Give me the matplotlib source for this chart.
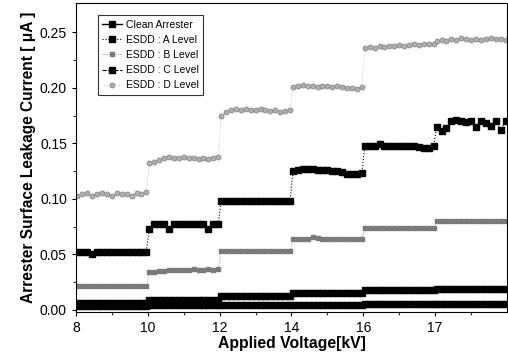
import matplotlib.pyplot as plt
import numpy as np

plt.rcParams['font.family'] = ['Liberation Sans', 'DejaVu Sans']

# voltage steps (equally spaced on the plot)
volt_labels = ["8", "10", "12", "14", "16", "17"]

# leakage current [uA], 15 samples for each voltage step
clean = [
    [0.003] * 15,
    [0.004] * 15,
    [0.004] * 15,
    [0.0045] * 15,
    [0.005] * 15,
    [0.005] * 15,
]
esdd_a = [
    [0.052, 0.052, 0.052, 0.050, 0.052, 0.052, 0.052, 0.052, 0.052, 0.052, 0.052, 0.052, 0.052, 0.052, 0.052],
    [0.073, 0.077, 0.077, 0.077, 0.073, 0.077, 0.077, 0.077, 0.077, 0.077, 0.077, 0.077, 0.073, 0.077, 0.077],
    [0.098, 0.098, 0.098, 0.098, 0.098, 0.098, 0.098, 0.098, 0.098, 0.098, 0.098, 0.098, 0.098, 0.098, 0.098],
    [0.125, 0.126, 0.127, 0.127, 0.127, 0.126, 0.126, 0.126, 0.125, 0.125, 0.124, 0.122, 0.122, 0.122, 0.123],
    [0.148, 0.148, 0.148, 0.149, 0.148, 0.148, 0.148, 0.148, 0.148, 0.148, 0.148, 0.147, 0.146, 0.146, 0.148],
    [0.165, 0.161, 0.164, 0.170, 0.171, 0.170, 0.169, 0.170, 0.165, 0.170, 0.168, 0.166, 0.170, 0.162, 0.170],
]
esdd_b = [
    [0.021, 0.021, 0.021, 0.021, 0.021, 0.021, 0.021, 0.021, 0.021, 0.021, 0.021, 0.021, 0.021, 0.021, 0.021],
    [0.034, 0.034, 0.035, 0.035, 0.036, 0.036, 0.036, 0.036, 0.036, 0.037, 0.036, 0.036, 0.037, 0.036, 0.037],
    [0.053, 0.053, 0.053, 0.053, 0.053, 0.053, 0.053, 0.053, 0.053, 0.053, 0.053, 0.053, 0.053, 0.053, 0.053],
    [0.064, 0.064, 0.064, 0.064, 0.066, 0.065, 0.064, 0.064, 0.064, 0.064, 0.064, 0.064, 0.064, 0.064, 0.064],
    [0.074, 0.074, 0.074, 0.074, 0.074, 0.074, 0.074, 0.074, 0.074, 0.074, 0.074, 0.074, 0.074, 0.074, 0.074],
    [0.080, 0.080, 0.080, 0.080, 0.080, 0.080, 0.080, 0.080, 0.080, 0.080, 0.080, 0.080, 0.080, 0.080, 0.080],
]
esdd_c = [
    [0.0065] * 15,
    [0.009] * 15,
    [0.012] * 15,
    [0.0155] * 15,
    [0.0178] * 15,
    [0.0185] * 15,
]
esdd_d = [
    [0.103, 0.104, 0.105, 0.103, 0.104, 0.105, 0.104, 0.103, 0.105, 0.104, 0.104, 0.103, 0.105, 0.104, 0.106],
    [0.132, 0.133, 0.135, 0.137, 0.138, 0.137, 0.137, 0.138, 0.137, 0.137, 0.136, 0.137, 0.136, 0.137, 0.138],
    [0.175, 0.178, 0.180, 0.181, 0.180, 0.181, 0.180, 0.180, 0.181, 0.180, 0.179, 0.180, 0.178, 0.179, 0.180],
    [0.201, 0.202, 0.203, 0.202, 0.202, 0.201, 0.202, 0.202, 0.201, 0.202, 0.201, 0.200, 0.200, 0.199, 0.201],
    [0.236, 0.237, 0.236, 0.238, 0.237, 0.238, 0.238, 0.239, 0.238, 0.239, 0.240, 0.239, 0.240, 0.240, 0.240],
    [0.242, 0.243, 0.242, 0.244, 0.243, 0.245, 0.244, 0.243, 0.244, 0.243, 0.244, 0.245, 0.244, 0.244, 0.243],
]


def flatten(series):
    xs, ys = [], []
    for i, seg in enumerate(series):
        n = len(seg)
        for k, v in enumerate(seg):
            xs.append(i + 0.02 + k * 0.96 / (n - 1))
            ys.append(v)
    return np.array(xs), np.array(ys)


fig = plt.figure(figsize=(5.08, 3.58), dpi=100)
ax = fig.add_axes([0.1496, 0.1285, 0.8484, 0.8631])

x, y = flatten(clean)
ax.plot(x, y, '-s', color='black', ms=4.8, lw=1, label='Clean Arrester')
x, y = flatten(esdd_a)
ax.plot(x, y, ':s', color='black', ms=4.8, lw=0.8, label='ESDD : A Level')
x, y = flatten(esdd_b)
ax.plot(x, y, ':s', color='#7a7a7a', ms=3.5, lw=0.6, label='ESDD : B Level')
x, y = flatten(esdd_c)
ax.plot(x, y, '--s', color='black', ms=4.8, lw=0.8, label='ESDD : C Level')
x, y = flatten(esdd_d)
ax.plot(x, y, 'o', color='#b0b0b0', ms=3.6, mec='#8a8a8a', mew=0.6, ls=':', lw=0.5,
        label='ESDD : D Level')

ax.set_xlim(0, 6)
ax.set_ylim(-0.002, 0.2765)
ax.set_xticks(range(len(volt_labels)))
ax.set_xticklabels(volt_labels)
ax.set_xticks(np.arange(0.5, 6, 1), minor=True)
ax.set_yticks([0.0, 0.05, 0.10, 0.15, 0.20, 0.25])
ax.set_yticklabels(['0.00', '0.05', '0.10', '0.15', '0.20', '0.25'])
ax.set_yticks(np.arange(0.025, 0.27, 0.05), minor=True)
ax.tick_params(direction='out', labelsize=10, length=3)
ax.tick_params(which='minor', direction='out', length=2)

ax.set_xlabel('Applied Voltage[kV]', fontsize=11.3, fontweight='bold', labelpad=1)
ax.set_ylabel('Arrester Surface Leakage Current [ \u03bcA ]', fontsize=11.2,
              fontweight='bold', labelpad=3)

leg = ax.legend(loc='upper left', bbox_to_anchor=(0.05, 0.96), borderaxespad=0,
                fontsize=7.5, frameon=True, fancybox=False, edgecolor='black',
                handlelength=1.9, handletextpad=0.4, borderpad=0.4, labelspacing=0.5)
leg.get_frame().set_linewidth(0.8)

fig.savefig('out.png', dpi=100)
